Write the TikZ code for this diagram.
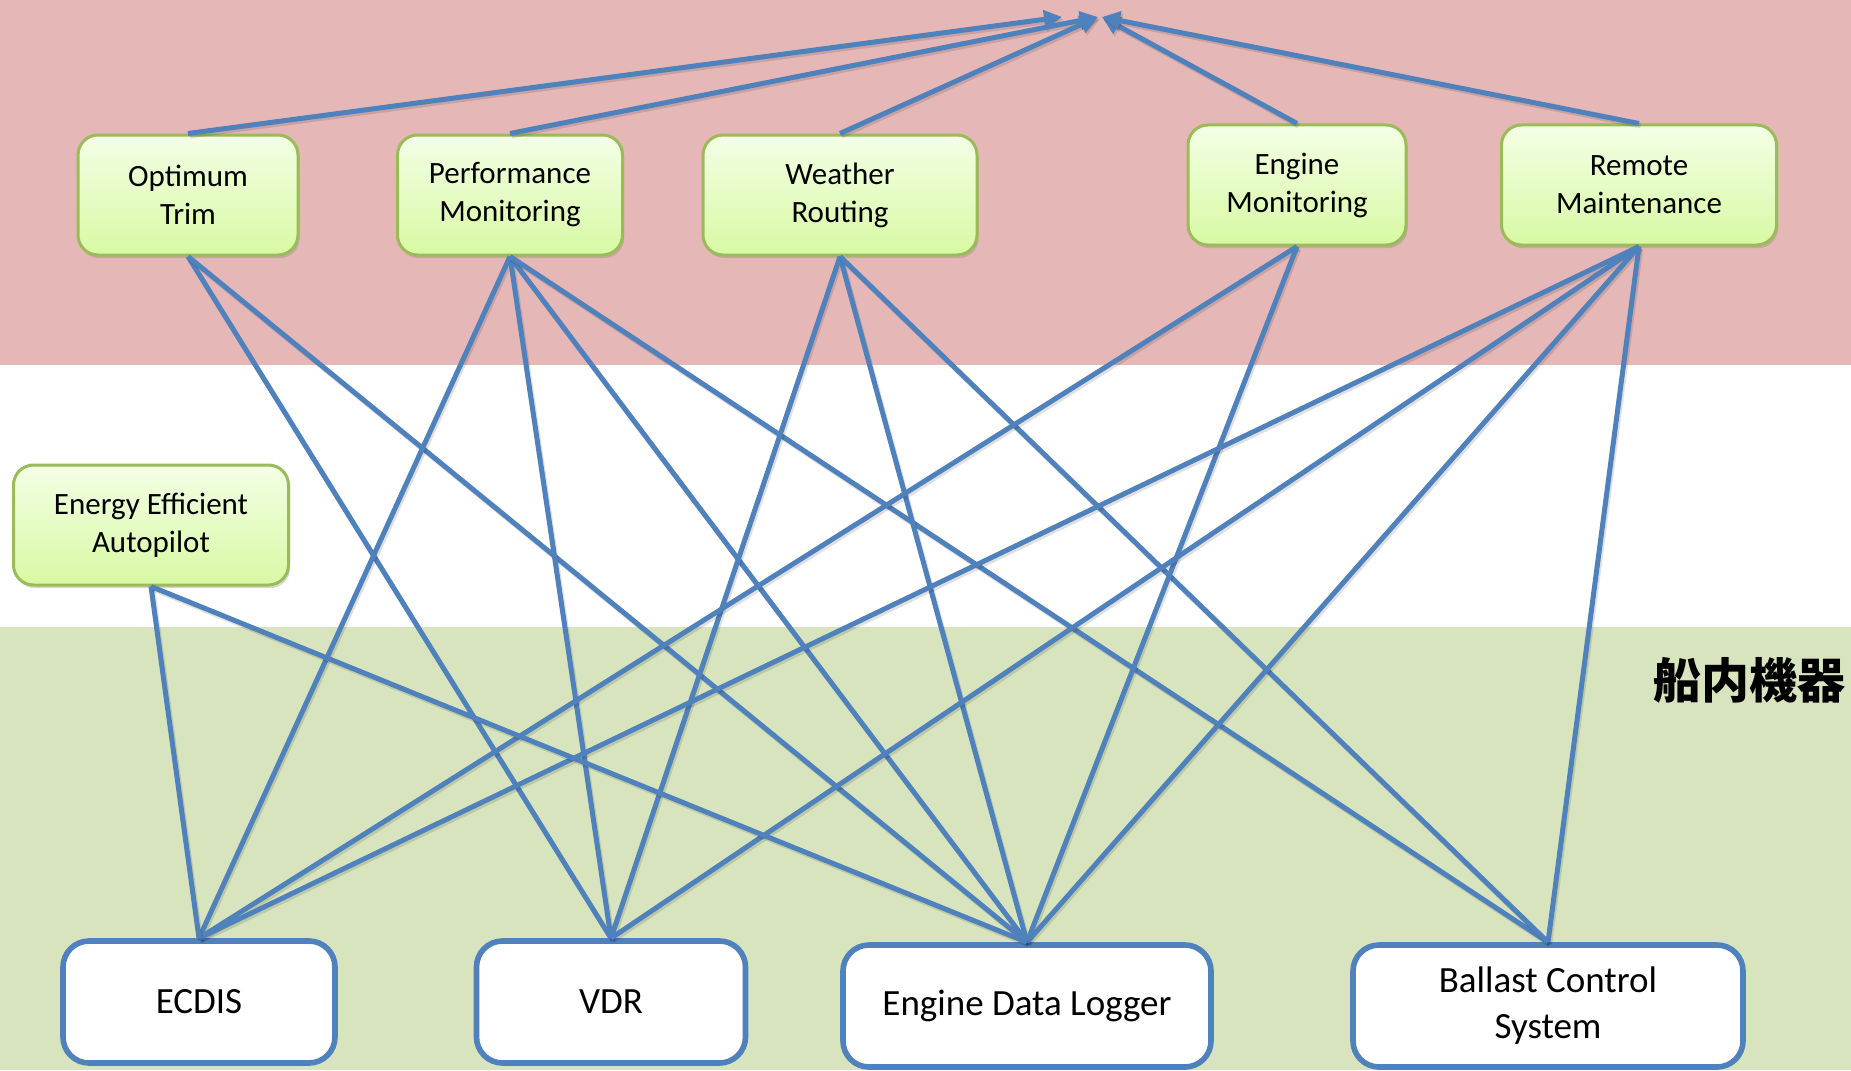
\documentclass[tikz,border=0pt]{standalone}
\usepackage{fontspec}
\setmainfont{Carlito}
\newfontfamily\cjkfont{Noto Sans CJK JP}
\usetikzlibrary{arrows.meta,shadows}

\definecolor{bandpink}{RGB}{229,184,183}
\definecolor{bandgreen}{RGB}{215,228,189}
\definecolor{linkblue}{RGB}{79,129,189}
\definecolor{appedge}{RGB}{155,187,89}
\definecolor{apptop}{RGB}{243,255,230}
\definecolor{appbottom}{RGB}{216,249,163}

\tikzset{every picture/.style={line width=0.75pt}}
\tikzset{
  app/.style={draw=appedge, line width=1.5pt, rounded corners=10pt,
    top color=apptop, bottom color=appbottom, align=center,
    minimum height=60pt, inner sep=2pt,
    font=\fontsize{15.5}{19}\selectfont,
    drop shadow={shadow xshift=0.8pt, shadow yshift=-1.6pt, opacity=0.3}},
  equip/.style={draw=linkblue, line width=2.8pt, rounded corners=13pt,
    fill=white, align=center, minimum height=61pt, inner sep=2pt,
    font=\fontsize{18.5}{23}\selectfont},
  link/.style={draw=linkblue, line width=2.5pt,
    preaction={draw=black, opacity=0.12, line width=2.5pt,
      transform canvas={xshift=0.8pt, yshift=-1.2pt}}},
  uplink/.style={link, -{Triangle[length=9pt,width=9pt]}},
}

\begin{document}
\begin{tikzpicture}[x=0.5pt,y=0.5pt,yscale=-1,xscale=1]
\useasboundingbox (0,0) rectangle (1851,1070);

%Bands
\fill[bandpink] (0,0) rectangle (1851,365);
\fill[bandgreen] (0,627) rectangle (1851,1070);

%Applications
\node[app, minimum width=110pt] (opt) at (188,195) {Optimum\\Trim};
\node[app, minimum width=112.5pt] (perf) at (510,195) {Performance\\Monitoring};
\node[app, minimum width=137pt] (wx) at (840,195) {Weather\\Routing};
\node[app, minimum width=109pt] (engmon) at (1297,185) {Engine\\Monitoring};
\node[app, minimum width=137.5pt] (remote) at (1639,185) {Remote\\Maintenance};
\node[app, minimum width=137.5pt] (eea) at (151,525) {Energy Efficient\\Autopilot};

%Onboard equipment
\node[equip, minimum width=136pt] (ecdis) at (199,1002) {ECDIS};
\node[equip, minimum width=134.5pt] (vdr) at (611,1002) {VDR};
\node[equip, minimum width=184pt] (edl) at (1027,1006) {Engine Data Logger};
\node[equip, minimum width=195pt] (ballast) at (1548,1006) {Ballast Control\\System};

\node[anchor=east, font=\cjkfont\bfseries\fontsize{24}{24}\selectfont] (onboard) at (1853,680) {船内機器};

%Arrow tips
\coordinate (tipA) at (1062,17);
\coordinate (tipB) at (1098,17);
\coordinate (tipC) at (1102,17);

%Straight Lines (up)
\draw[uplink] (opt.north) -- (tipA);
\draw[uplink] (perf.north) -- (tipB);
\draw[uplink] (wx.north) -- (tipB);
\draw[uplink] (engmon.north) -- (tipC);
\draw[uplink] (remote.north) -- (tipC);

%Straight Lines (down)
\foreach \a/\b in {opt/vdr, opt/edl,
  perf/ecdis, perf/vdr, perf/edl, perf/ballast,
  wx/vdr, wx/edl, wx/ballast,
  engmon/ecdis, engmon/edl,
  remote/ecdis, remote/vdr, remote/edl, remote/ballast,
  eea/ecdis, eea/edl}
  \draw[link] (\a.south) -- (\b.north);

\end{tikzpicture}
\end{document}
